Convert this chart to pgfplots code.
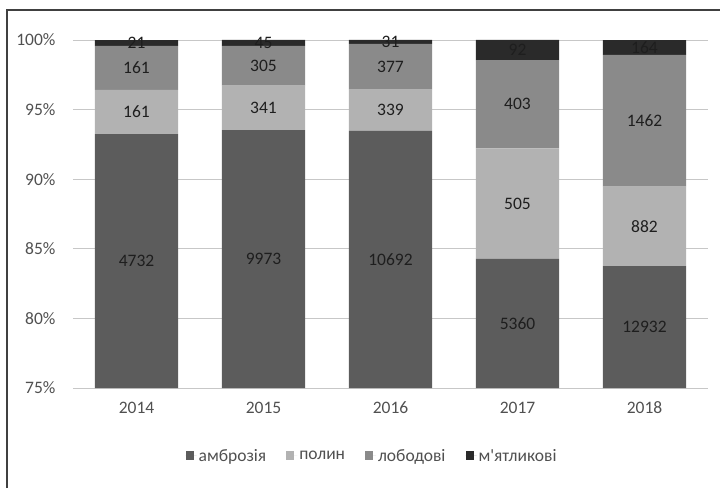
\documentclass[border=0pt]{standalone}
\usepackage{fontspec}
\setmainfont{Carlito}[Numbers=Lining]
\usepackage{pgfplots}
\pgfplotsset{compat=1.18}
\definecolor{cA}{HTML}{5C5C5C}
\definecolor{cP}{HTML}{B2B2B2}
\definecolor{cL}{HTML}{8A8A8A}
\definecolor{cM}{HTML}{2A2A2A}
\definecolor{txt}{HTML}{505050}
\definecolor{lbl}{HTML}{1E1E1E}
\begin{document}
\begin{tikzpicture}
\useasboundingbox (0pt,0pt) rectangle (720pt,488pt);
\draw[color=black!75, line width=1.5pt] (7pt,0pt) -- (7pt,478pt) -- (720pt,478pt);
\begin{axis}[
  at={(73pt,100pt)}, anchor=south west,
  scale only axis, width=635pt, height=348pt,
  xmin=-0.5, xmax=4.5, ymin=75, ymax=100,
  ybar stacked, bar width=0.655,
  axis line style={draw=none},
  major tick length=0pt,
  ymajorgrids, grid style={color=black!22, line width=0.9pt},
  xtick={0,1,2,3,4}, xticklabels={2014,2015,2016,2017,2018},
  ytick={75,80,85,90,95,100}, yticklabels={75\%,80\%,85\%,90\%,95\%,100\%},
  tick label style={font=\fontsize{17.5}{21}\selectfont, text=txt},
  yticklabel style={xshift=-14pt},
  xticklabel style={yshift=-14pt, text height=1.6ex, text depth=0.2ex},
  legend columns=4,
  legend style={at={(0.471,-0.195)}, anchor=center, draw=none, fill=none,
    font=\fontsize{17.5}{21}\selectfont, text=txt,
    /tikz/every even column/.append style={column sep=18pt}},
  legend image code/.code={\fill[#1] (0pt,-4.5pt) rectangle (8pt,4.5pt); \path (0pt,0pt) -- (11pt,0pt);},
]
\addplot[fill=cA, draw=none] coordinates {(0,93.241) (1,93.520) (2,93.470) (3,84.277) (4,83.756)};
\addplot[fill=cP, draw=none] coordinates {(0,3.172) (1,3.198) (2,2.964) (3,7.940) (4,5.712)};
\addplot[fill=cL, draw=none] coordinates {(0,3.172) (1,2.860) (2,3.296) (3,6.336) (4,9.469)};
\addplot[fill=cM, draw=none] coordinates {(0,0.414) (1,0.422) (2,0.271) (3,1.447) (4,1.062)};
\legend{амброзія, полин, лободові, м\textquotesingle ятликові}
\end{axis}
\begin{axis}[
  at={(73pt,100pt)}, anchor=south west,
  scale only axis, width=635pt, height=348pt,
  xmin=-0.5, xmax=4.5, ymin=75, ymax=100,
  hide axis, clip=false,
]
\addplot[draw=none, nodes near coords, point meta=explicit symbolic,
  nodes near coords align={center},
  every node near coord/.append style={anchor=center, font=\fontsize{17.5}{21}\selectfont, text=lbl}]
  coordinates {
  (0,84.12)[4732] (0,94.83)[161] (0,98.00)[161] (0,99.79)[21]
  (1,84.26)[9973] (1,95.12)[341] (1,98.15)[305] (1,99.79)[45]
  (2,84.24)[10692] (2,94.95)[339] (2,98.08)[377] (2,99.87)[31]
  (3,79.64)[5360] (3,88.25)[505] (3,95.39)[403] (3,99.28)[92]
  (4,79.38)[12932] (4,86.61)[882] (4,94.20)[1462] (4,99.47)[164]
  };
\end{axis}
\end{tikzpicture}
\end{document}
